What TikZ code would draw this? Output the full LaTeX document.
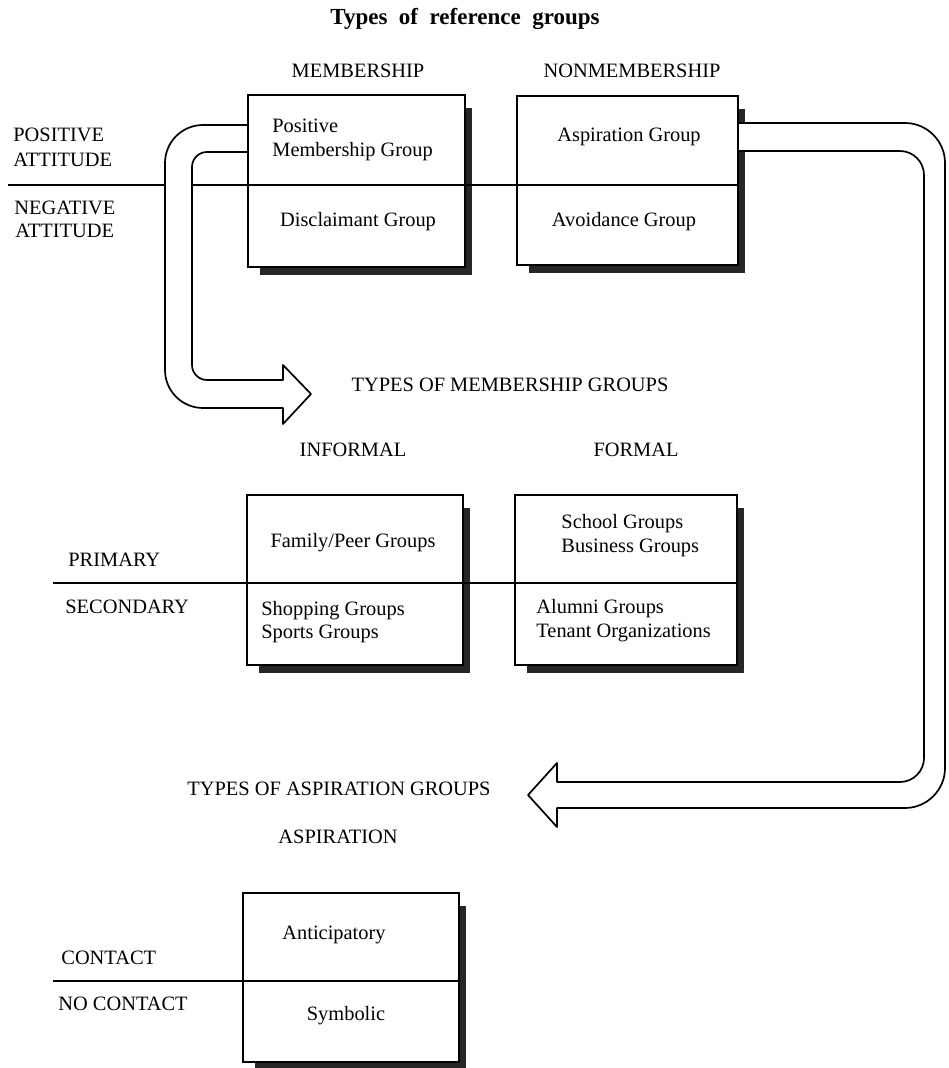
\documentclass[tikz,border=0pt]{standalone}
\usepackage{fontspec}
\setmainfont{Liberation Serif}
\usetikzlibrary{fit}
\begin{document}
\begin{tikzpicture}[x=0.5pt,y=-0.5pt,
  lbl/.style={inner sep=0pt, font=\fontsize{10.2}{12}\selectfont},
  ttl/.style={inner sep=0pt, font=\fontsize{11.5}{14}\selectfont\bfseries},
  gbox/.style={draw, line width=0.85pt, fill=white, inner sep=0pt, outer sep=0pt},
  shadowfill/.style={fill=black!85},
  sepline/.style={line width=1.3pt},
  bigarrow/.style={draw, line width=0.85pt, fill=white, line join=round}]
\useasboundingbox (0,0) rectangle (948,1068);

% box frames
\node[gbox, fit={(248,95) (465,267)}] (b1) {};
\node[gbox, fit={(517,96) (738,265)}] (b2) {};
\node[gbox, fit={(247,495) (463,665)}] (b3) {};
\node[gbox, fit={(515,495) (737,665)}] (b4) {};
\node[gbox, fit={(243,893) (459,1062)}] (b5) {};

% shadows
\foreach \b in {b1,b2,b3,b4,b5}{
  \fill[shadowfill] ([shift={(12,13)}]\b.north west) rectangle ([shift={(7,8)}]\b.south east);
}
% boxes on top of their shadows
\foreach \b in {b1,b2,b3,b4,b5}{
  \draw[line width=0.85pt, fill=white] (\b.north west) rectangle (\b.south east);
}

% dividing lines
\coordinate (l1a) at (8,185);
\coordinate (l2a) at (53,583);
\coordinate (l3a) at (53,981);
\draw[sepline] (l1a) -- (l1a -| b2.east);
\draw[sepline] (l2a) -- (l2a -| b4.east);
\draw[sepline] (l3a) -- (l3a -| b5.east);

% block arrow 1 (positive membership group -> types of membership groups)
\draw[bigarrow] (b1.west |- 0,152) -- (207,152)
  .. controls (198.7,152) and (192,158.7) .. (192,167)
  -- (192,365) .. controls (192,373.3) and (198.7,380) .. (207,380)
  -- (283,380) -- (283,365) -- (311,394) -- (283,424) -- (283,408) -- (203,408)
  .. controls (182,408) and (165,391) .. (165,370) -- (165,163)
  .. controls (165,142) and (182,125) .. (203,125) -- (b1.west |- 0,125) -- cycle;

% block arrow 2 (aspiration group -> types of aspiration groups)
\draw[bigarrow] (b2.east |- 0,123) -- (905,123)
  .. controls (927,123) and (945,141) .. (945,163)
  -- (945,768) .. controls (945,790) and (927,808) .. (905,808)
  -- (557,808) -- (557,827) -- (528,795) -- (557,763) -- (557,782) -- (900,782)
  .. controls (913.2,782) and (924,771.2) .. (924,758) -- (924,175)
  .. controls (924,161.8) and (913.2,151) .. (900,151) -- (b2.east |- 0,151) -- cycle;

% title and headers
\node[ttl, anchor=base] (title) at (465,25) {Types\hspace{0.5em}of\hspace{0.5em}reference\hspace{0.5em}groups};
\node[lbl, anchor=base] (hmem) at (358,78) {MEMBERSHIP};
\node[lbl, anchor=base] (hnon) at (632,78) {NONMEMBERSHIP};

% side labels, top block
\node[lbl, anchor=base west] (pos1) at (13,142) {POSITIVE};
\node[lbl, anchor=base west] (pos2) at (13,167) {ATTITUDE};
\node[lbl, anchor=base west] (neg1) at (14,215) {NEGATIVE};
\node[lbl, anchor=base west] (neg2) at (15,238) {ATTITUDE};

% box 1 and 2 texts
\node[lbl, anchor=base west] (t1a) at (272,133) {Positive};
\node[lbl, anchor=base west] (t1b) at (272,157) {Membership Group};
\node[lbl, anchor=base] (t1c) at (358,227) {Disclaimant Group};
\node[lbl, anchor=base] (t2a) at (629,142) {Aspiration Group};
\node[lbl, anchor=base] (t2b) at (624,227) {Avoidance Group};

% second block
\node[lbl, anchor=base] (hmg) at (510,392) {TYPES OF MEMBERSHIP GROUPS};
\node[lbl, anchor=base] (hinf) at (353,457) {INFORMAL};
\node[lbl, anchor=base] (hfor) at (636,457) {FORMAL};
\node[lbl, anchor=base west] (prim) at (68,566) {PRIMARY};
\node[lbl, anchor=base west] (sec) at (65,613) {SECONDARY};
\node[lbl, anchor=base] (t3a) at (353,547) {Family/Peer Groups};
\node[lbl, anchor=base west] (t3b) at (261,615) {Shopping Groups};
\node[lbl, anchor=base west] (t3c) at (261,638) {Sports Groups};
\node[lbl, anchor=base west] (t4a) at (561,528) {School Groups};
\node[lbl, anchor=base west] (t4b) at (561,552) {Business Groups};
\node[lbl, anchor=base west] (t4c) at (536,613) {Alumni Groups};
\node[lbl, anchor=base west] (t4d) at (536,637) {Tenant Organizations};

% third block
\node[lbl, anchor=base west] (hag) at (187,795) {TYPES OF ASPIRATION GROUPS};
\node[lbl, anchor=base] (hasp) at (338,843) {ASPIRATION};
\node[lbl, anchor=base west] (con) at (61,964) {CONTACT};
\node[lbl, anchor=base west] (ncon) at (58,1010) {NO CONTACT};
\node[lbl, anchor=base] (t5a) at (334,939) {Anticipatory};
\node[lbl, anchor=base] (t5b) at (346,1020) {Symbolic};
\end{tikzpicture}
\end{document}
